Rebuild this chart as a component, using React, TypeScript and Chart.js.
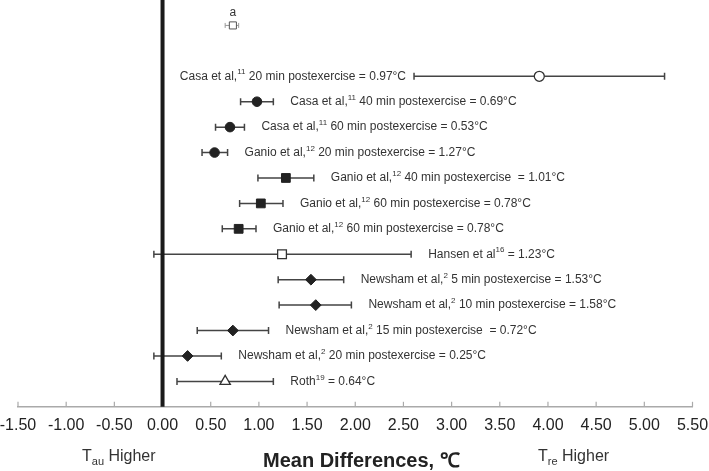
import React, { useEffect, useRef } from "react";
import { Chart, registerables } from "chart.js";
Chart.register(...registerables);

// ---------- data ----------
const rowPositions = [13, 12, 11, 10, 9, 8, 7, 6, 5, 4, 3, 2, 1];
const meanDiffs = [3.91, 0.98, 0.70, 0.54, 1.28, 1.02, 0.79, 1.24, 1.54, 1.59, 0.73, 0.26, 0.65];
const lowerCI = [2.61, 0.81, 0.55, 0.41, 0.99, 0.80, 0.62, -0.09, 1.20, 1.21, 0.36, -0.09, 0.15];
const upperCI = [5.21, 1.15, 0.85, 0.675, 1.57, 1.25, 0.97, 2.58, 1.88, 1.96, 1.10, 0.61, 1.15];
const markerKinds = [
  "circleOpen", "circle", "circle", "circle",
  "square", "square", "square", "squareOpen",
  "diamond", "diamond", "diamond", "diamond", "triangleOpen",
];
const labelPre = [
  "Casa et al,", "Casa et al,", "Casa et al,", "Ganio et al,", "Ganio et al,", "Ganio et al,", "Ganio et al,",
  "Hansen et al", "Newsham et al,", "Newsham et al,", "Newsham et al,", "Newsham et al,", "Roth",
];
const labelSup = ["11", "11", "11", "12", "12", "12", "12", "16", "2", "2", "2", "2", "19"];
const labelPost = [
  " 20 min postexercise = 0.97°C",
  " 40 min postexercise = 0.69°C",
  " 60 min postexercise = 0.53°C",
  " 20 min postexercise = 1.27°C",
  " 40 min postexercise  = 1.01°C",
  " 60 min postexercise = 0.78°C",
  " 60 min postexercise = 0.78°C",
  " = 1.23°C",
  " 5 min postexercise = 1.53°C",
  " 10 min postexercise = 1.58°C",
  " 15 min postexercise  = 0.72°C",
  " 20 min postexercise = 0.25°C",
  " = 0.64°C",
];
const labelLeftOfBar = [true, false, false, false, false, false, false, false, false, false, false, false, false];

const noteRow = 15;
const noteMean = 0.73;
const noteLower = 0.65;
const noteUpper = 0.79;
const noteLabel = "a";

const xMin = -1.5;
const xMax = 5.5;
const xStep = 0.5;
const yMin = 0;
const yMax = 16;
const zeroLine = 0;

const leftAxisText = ["T", "au", " Higher"];
const rightAxisText = ["T", "re", " Higher"];
const axisTitle = "Mean Differences, \u2103";

// ---------- styles ----------
const FONT = '"Liberation Sans", Arial, Helvetica, sans-serif';
const markerStyles: Record<string, any> = {
  circle: { pointStyle: "circle", radius: 4.8, bg: "#222", border: "#222", bw: 1 },
  circleOpen: { pointStyle: "circle", radius: 5, bg: "#fff", border: "#333", bw: 1.3 },
  square: { pointStyle: "rect", radius: 6.2, bg: "#222", border: "#222", bw: 1 },
  squareOpen: { pointStyle: "rect", radius: 6.2, bg: "#fff", border: "#333", bw: 1.3 },
  diamond: { pointStyle: "rectRot", radius: 5.4, bg: "#222", border: "#222", bw: 1 },
  triangleOpen: { pointStyle: "triangle", radius: 6, bg: "#fff", border: "#333", bw: 1.3 },
  note: { pointStyle: "rect", radius: 5, bg: "#fff", border: "#555", bw: 1 },
};

function drawRich(ctx: CanvasRenderingContext2D, x: number, y: number, pre: string, sup: string, post: string, alignRight: boolean) {
  ctx.font = `12px ${FONT}`;
  const w1 = ctx.measureText(pre).width;
  const w3 = ctx.measureText(post).width;
  ctx.font = `8px ${FONT}`;
  const w2 = ctx.measureText(sup).width;
  const total = w1 + w2 + w3;
  const start = alignRight ? x - total : x;
  ctx.textAlign = "left";
  ctx.textBaseline = "middle";
  ctx.fillStyle = "#333";
  ctx.font = `12px ${FONT}`;
  ctx.fillText(pre, start, y);
  ctx.font = `8px ${FONT}`;
  ctx.fillText(sup, start + w1, y - 4);
  ctx.font = `12px ${FONT}`;
  ctx.fillText(post, start + w1 + w2, y);
}

function drawSub(ctx: CanvasRenderingContext2D, x: number, y: number, parts: string[]) {
  ctx.textAlign = "left";
  ctx.textBaseline = "middle";
  ctx.fillStyle = "#333";
  ctx.font = `16px ${FONT}`;
  ctx.fillText(parts[0], x, y);
  const w0 = ctx.measureText(parts[0]).width;
  ctx.font = `11px ${FONT}`;
  ctx.fillText(parts[1], x + w0, y + 5);
  const w1 = ctx.measureText(parts[1]).width;
  ctx.font = `16px ${FONT}`;
  ctx.fillText(parts[2], x + w0 + w1, y);
}

const forestPlugin = {
  id: "forest",
  beforeDatasetsDraw(chart: any) {
    const ctx = chart.ctx as CanvasRenderingContext2D;
    const xs = chart.scales.x;
    const ys = chart.scales.y;
    ctx.save();
    ctx.strokeStyle = "#aaa";
    ctx.lineWidth = 1.2;
    const axisY = ys.getPixelForValue(yMin);
    xs.ticks.forEach((t: any) => {
      const px = xs.getPixelForValue(t.value);
      ctx.beginPath();
      ctx.moveTo(px, axisY);
      ctx.lineTo(px, axisY - 5);
      ctx.stroke();
    });
    const bar = (lo: number, hi: number, row: number, color: string, lw: number, cap: number) => {
      const y = ys.getPixelForValue(row);
      const x1 = xs.getPixelForValue(lo);
      const x2 = xs.getPixelForValue(hi);
      ctx.strokeStyle = color;
      ctx.lineWidth = lw;
      ctx.beginPath();
      ctx.moveTo(x1, y);
      ctx.lineTo(x2, y);
      ctx.moveTo(x1, y - cap);
      ctx.lineTo(x1, y + cap);
      ctx.moveTo(x2, y - cap);
      ctx.lineTo(x2, y + cap);
      ctx.stroke();
    };
    rowPositions.forEach((r, i) => bar(lowerCI[i], upperCI[i], r, "#444", 1.5, 3.5));
    bar(noteLower, noteUpper, noteRow, "#999", 1, 2.5);
    const zx = xs.getPixelForValue(zeroLine);
    ctx.strokeStyle = "#1a1a1a";
    ctx.lineWidth = 4;
    ctx.beginPath();
    ctx.moveTo(zx, ys.getPixelForValue(yMax));
    ctx.lineTo(zx, ys.getPixelForValue(yMin));
    ctx.stroke();
    ctx.restore();
  },
  afterDatasetsDraw(chart: any) {
    const ctx = chart.ctx as CanvasRenderingContext2D;
    const xs = chart.scales.x;
    const ys = chart.scales.y;
    ctx.save();
    rowPositions.forEach((r, i) => {
      const y = ys.getPixelForValue(r);
      if (labelLeftOfBar[i]) {
        drawRich(ctx, xs.getPixelForValue(lowerCI[i]) - 8, y, labelPre[i], labelSup[i], labelPost[i], true);
      } else {
        drawRich(ctx, xs.getPixelForValue(upperCI[i]) + 17, y, labelPre[i], labelSup[i], labelPost[i], false);
      }
    });
    ctx.font = `12px ${FONT}`;
    ctx.fillStyle = "#333";
    ctx.textAlign = "center";
    ctx.textBaseline = "middle";
    ctx.fillText(noteLabel, xs.getPixelForValue(noteMean), ys.getPixelForValue(noteRow) - 13);
    drawSub(ctx, 82, 457, leftAxisText);
    drawSub(ctx, 538, 457, rightAxisText);
    ctx.font = `bold 20px ${FONT}`;
    ctx.fillStyle = "#222";
    ctx.textAlign = "left";
    ctx.fillText(axisTitle, 263, 461);
    ctx.restore();
  },
};

export default function App() {
  const ref = useRef<HTMLCanvasElement>(null);
  useEffect(() => {
    if (!ref.current) return;
    const pts = rowPositions.map((r, i) => ({ x: meanDiffs[i], y: r }));
    pts.push({ x: noteMean, y: noteRow });
    const kinds = [...markerKinds, "note"];
    const chart = new Chart(ref.current, {
      type: "scatter",
      data: {
        datasets: [
          {
            data: pts,
            pointStyle: kinds.map((k) => markerStyles[k].pointStyle),
            pointRadius: kinds.map((k) => markerStyles[k].radius),
            pointBackgroundColor: kinds.map((k) => markerStyles[k].bg),
            pointBorderColor: kinds.map((k) => markerStyles[k].border),
            pointBorderWidth: kinds.map((k) => markerStyles[k].bw),
            pointHoverRadius: kinds.map((k) => markerStyles[k].radius),
          } as any,
        ],
      },
      options: {
        responsive: false,
        animation: false,
        layout: { padding: { top: 0, bottom: 27, left: 0, right: 0 }, autoPadding: false } as any,
        plugins: { legend: { display: false }, tooltip: { enabled: false } },
        scales: {
          x: {
            type: "linear",
            min: xMin,
            max: xMax,
            ticks: {
              stepSize: xStep,
              padding: 9,
              color: "#222",
              font: { family: FONT, size: 16 },
              callback: (v: any) => Number(v).toFixed(2),
            },
            grid: { display: true, drawOnChartArea: false, drawTicks: false },
            border: { display: true, color: "#aaa", width: 1.5 },
            afterFit: (scale: any) => {
              scale.paddingLeft = 18;
              scale.paddingRight = 16.5;
            },
          } as any,
          y: {
            type: "linear",
            min: yMin,
            max: yMax,
            display: false,
            ticks: { display: false },
          } as any,
        },
      },
      plugins: [forestPlugin],
    });
    return () => chart.destroy();
  }, []);
  return (
    <div style={{ position: "fixed", left: 0, top: 0, width: 709, height: 471, background: "#fff" }}>
      <canvas ref={ref} width={709} height={471} style={{ display: "block" }} />
    </div>
  );
}
